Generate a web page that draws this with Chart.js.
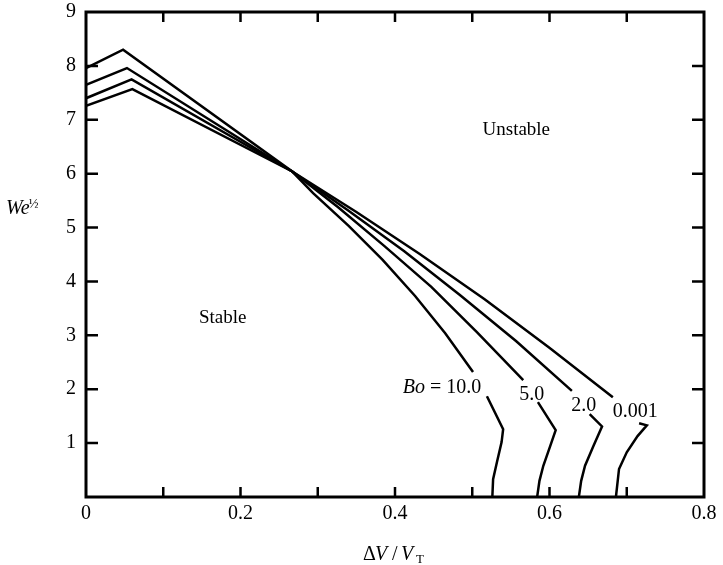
<!DOCTYPE html>
<html>
<head>
<meta charset="utf-8">
<script src="https://cdn.jsdelivr.net/npm/chart.js@4"></script>
<style>
    html, body { margin: 0; padding: 0; background: #ffffff; }
    #wrap { width: 723px; height: 565px; position: relative; }
</style>
</head>
<body>
<div id="wrap"><canvas id="stability-chart" width="723" height="565"></canvas></div>
<script>
// Кривые устойчивости We^1/2 от ΔV/V_T для разных Bo
const boLabels = ['10.0', '5.0', '2.0', '0.001'];

// null в y — разрыв линии под подписью
const bo10X = [0, 0.048, 0.267, 0.294, 0.340, 0.384, 0.426, 0.465, 0.501, 0.51, 0.519, 0.540, 0.538, 0.532, 0.527, 0.526];
const bo10Y = [7.96, 8.30, 6.04, 5.64, 5.03, 4.40, 3.73, 3.04, 2.32, null, 1.87, 1.26, 1.02, 0.65, 0.33, 0];

const bo5X = [0, 0.053, 0.267, 0.326, 0.386, 0.447, 0.506, 0.566, 0.575, 0.585, 0.608, 0.601, 0.592, 0.587, 0.584];
const bo5Y = [7.65, 7.96, 6.04, 5.38, 4.66, 3.90, 3.06, 2.17, null, 1.76, 1.24, 0.95, 0.58, 0.30, 0];

const bo2X = [0, 0.059, 0.267, 0.339, 0.412, 0.484, 0.557, 0.629, 0.64, 0.652, 0.668, 0.657, 0.646, 0.641, 0.638];
const bo2Y = [7.40, 7.75, 6.04, 5.32, 4.56, 3.75, 2.89, 1.97, null, 1.54, 1.31, 0.95, 0.58, 0.30, 0];

const bo001X = [0, 0.060, 0.267, 0.350, 0.432, 0.516, 0.599, 0.682, 0.70, 0.716, 0.726, 0.714, 0.700, 0.690, 0.686];
const bo001Y = [7.26, 7.57, 6.04, 5.29, 4.51, 3.67, 2.78, 1.85, null, 1.37, 1.33, 1.13, 0.83, 0.52, 0];

// где стоят подписи кривых (левый край текста / базовая линия)
const labelX = [0.410, 0.561, 0.628, 0.682];
const labelY = [1.93, 1.80, 1.60, 1.48];

const xTicks = [0, 0.1, 0.2, 0.3, 0.4, 0.5, 0.6, 0.7, 0.8];
const yTicks = [0, 1, 2, 3, 4, 5, 6, 7, 8, 9];

const SERIF = '"Liberation Serif", "DejaVu Serif", serif';

function toPoints(xs, ys) {
    return xs.map((x, i) => ({ x: x, y: ys[i] }));
}

const curves = [
    toPoints(bo10X, bo10Y),
    toPoints(bo5X, bo5Y),
    toPoints(bo2X, bo2Y),
    toPoints(bo001X, bo001Y)
];

// рамка, внутренние засечки и все подписи
const framePlugin = {
    id: 'frame',
    afterDraw(chart) {
        const ctx = chart.ctx;
        const a = chart.chartArea;
        const sx = chart.scales.x;
        const sy = chart.scales.y;

        ctx.save();
        ctx.strokeStyle = '#000';
        ctx.lineWidth = 3;
        ctx.strokeRect(a.left, a.top, a.right - a.left, a.bottom - a.top);

        ctx.lineWidth = 2.5;
        ctx.beginPath();
        xTicks.slice(1, -1).forEach(v => {
            const px = sx.getPixelForValue(v);
            ctx.moveTo(px, a.bottom); ctx.lineTo(px, a.bottom - 10);
            ctx.moveTo(px, a.top); ctx.lineTo(px, a.top + 10);
        });
        yTicks.slice(1, -1).forEach(v => {
            const py = sy.getPixelForValue(v);
            ctx.moveTo(a.left, py); ctx.lineTo(a.left + 12, py);
            ctx.moveTo(a.right, py); ctx.lineTo(a.right - 12, py);
        });
        ctx.stroke();

        ctx.fillStyle = '#000';
        ctx.textBaseline = 'alphabetic';
        ctx.textAlign = 'left';

        // подписи Bo у кривых
        boLabels.forEach((lbl, i) => {
            let px = sx.getPixelForValue(labelX[i]);
            const py = sy.getPixelForValue(labelY[i]);
            if (i === 0) {
                ctx.font = 'italic 20px ' + SERIF;
                ctx.fillText('Bo', px, py);
                px += ctx.measureText('Bo').width;
                ctx.font = '20px ' + SERIF;
                ctx.fillText(' = ' + lbl, px, py);
            } else {
                ctx.font = '20px ' + SERIF;
                ctx.fillText(lbl, px, py);
            }
        });

        ctx.font = '19px ' + SERIF;
        ctx.textAlign = 'center';
        ctx.fillText('Unstable', sx.getPixelForValue(0.557), sy.getPixelForValue(6.72));
        ctx.fillText('Stable', sx.getPixelForValue(0.177), sy.getPixelForValue(3.22));

        // ось Y: We½
        ctx.textAlign = 'left';
        ctx.font = 'italic 20px ' + SERIF;
        ctx.fillText('We', 6, 214);
        const weW = ctx.measureText('We').width;
        ctx.font = '13px ' + SERIF;
        ctx.fillText('½', 6 + weW - 1, 208);

        // ось X: ΔV/V_T
        const ty = 560;
        ctx.font = '20px ' + SERIF;
        ctx.fillText('Δ', 363, ty);
        ctx.font = 'italic 20px ' + SERIF;
        ctx.fillText('V', 375, ty);
        ctx.font = '20px ' + SERIF;
        ctx.fillText('/', 392, ty);
        ctx.font = 'italic 20px ' + SERIF;
        ctx.fillText('V', 401, ty);
        ctx.font = '13px ' + SERIF;
        ctx.fillText('T', 416, ty + 3);

        ctx.restore();
    }
};

new Chart(document.getElementById('stability-chart'), {
    type: 'line',
    data: {
        datasets: curves.map((pts, i) => ({
            label: 'Bo = ' + boLabels[i],
            data: pts,
            borderColor: '#000',
            borderWidth: 2.5,
            pointRadius: 0,
            tension: 0,
            spanGaps: false,
            fill: false
        }))
    },
    options: {
        responsive: false,
        animation: false,
        layout: { padding: { left: 0, right: 19, top: 12, bottom: 0 } },
        plugins: {
            legend: { display: false },
            tooltip: { enabled: false }
        },
        scales: {
            x: {
                type: 'linear',
                min: 0,
                max: 0.8,
                grid: { display: false, drawTicks: false },
                border: { display: false },
                afterFit: scale => { scale.height = 68; },
                afterBuildTicks: scale => { scale.ticks = xTicks.map(v => ({ value: v })); },
                ticks: {
                    padding: 5,
                    color: '#000',
                    font: { family: SERIF, size: 20 },
                    maxRotation: 0,
                    autoSkip: false,
                    callback: v => {
                        const k = Math.round(v * 10);
                        if (k % 2 !== 0) return '';
                        return k === 0 ? '0' : (k / 10).toFixed(1);
                    }
                }
            },
            y: {
                type: 'linear',
                min: 0,
                max: 9,
                grid: { display: false, drawTicks: false },
                border: { display: false },
                afterFit: scale => {
                    scale.width = 86;
                    scale.paddingTop = 0;
                    scale.paddingBottom = 0;
                },
                afterBuildTicks: scale => { scale.ticks = yTicks.map(v => ({ value: v })); },
                ticks: {
                    padding: 10,
                    color: '#000',
                    font: { family: SERIF, size: 20 },
                    autoSkip: false,
                    callback: v => (v === 0 ? '' : String(v))
                }
            }
        }
    },
    plugins: [framePlugin]
});
</script>
</body>
</html>
